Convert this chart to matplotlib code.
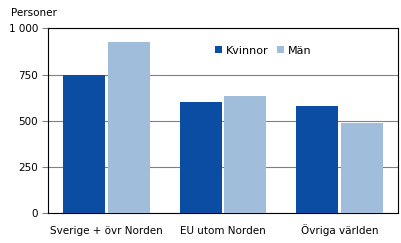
import numpy as np
import matplotlib.pyplot as plt
from matplotlib.ticker import FuncFormatter

categories = ['Sverige + övr Norden', 'EU utom Norden', 'Övriga världen']
kvinnor = [749, 603, 580]
man = [927, 634, 488]

plt.rcParams['font.family'] = ['DejaVu Sans']
plt.rcParams['font.size'] = 7.5

fig = plt.figure(figsize=(4.02, 2.43), dpi=100)
ax = fig.add_axes([48 / 402, 1 - 213.3 / 243, 350 / 402, 185 / 243])

x = np.arange(len(categories))
w = 0.36
gap = 0.012
ax.bar(x - w / 2 - gap, kvinnor, w, color='#0A4DA2', label='Kvinnor', zorder=3)
ax.bar(x + w / 2 + gap, man, w, color='#A1BDDC', label='Män', zorder=3)

ax.set_xlim(-0.5, 2.5)
ax.set_ylim(0, 1000)
ax.set_yticks([0, 250, 500, 750, 1000])
ax.yaxis.set_major_formatter(FuncFormatter(lambda v, p: f'{int(v):,}'.replace(',', ' ')))
ax.set_xticks(x)
ax.set_xticklabels(categories)
for lab in ax.get_xticklabels():
    lab.set_verticalalignment('baseline')
ax.tick_params(axis='x', length=0, pad=15)
ax.tick_params(axis='y', length=4, width=0.8, direction='out', color='#808080', pad=3)
ax.grid(axis='y', color='#808080', linewidth=0.8, zorder=0)
for s in ax.spines.values():
    s.set_color('black')
    s.set_linewidth(0.8)

ax.text(-0.04, 1.055, 'Personer', transform=ax.transAxes, ha='center', va='bottom')

ax.legend(loc='upper left', bbox_to_anchor=(0.45, 0.96), ncol=2, frameon=False,
          handlelength=0.6, handleheight=0.6, handletextpad=0.35, columnspacing=0.75,
          fontsize=8)

fig.savefig('out.png', dpi=100)
